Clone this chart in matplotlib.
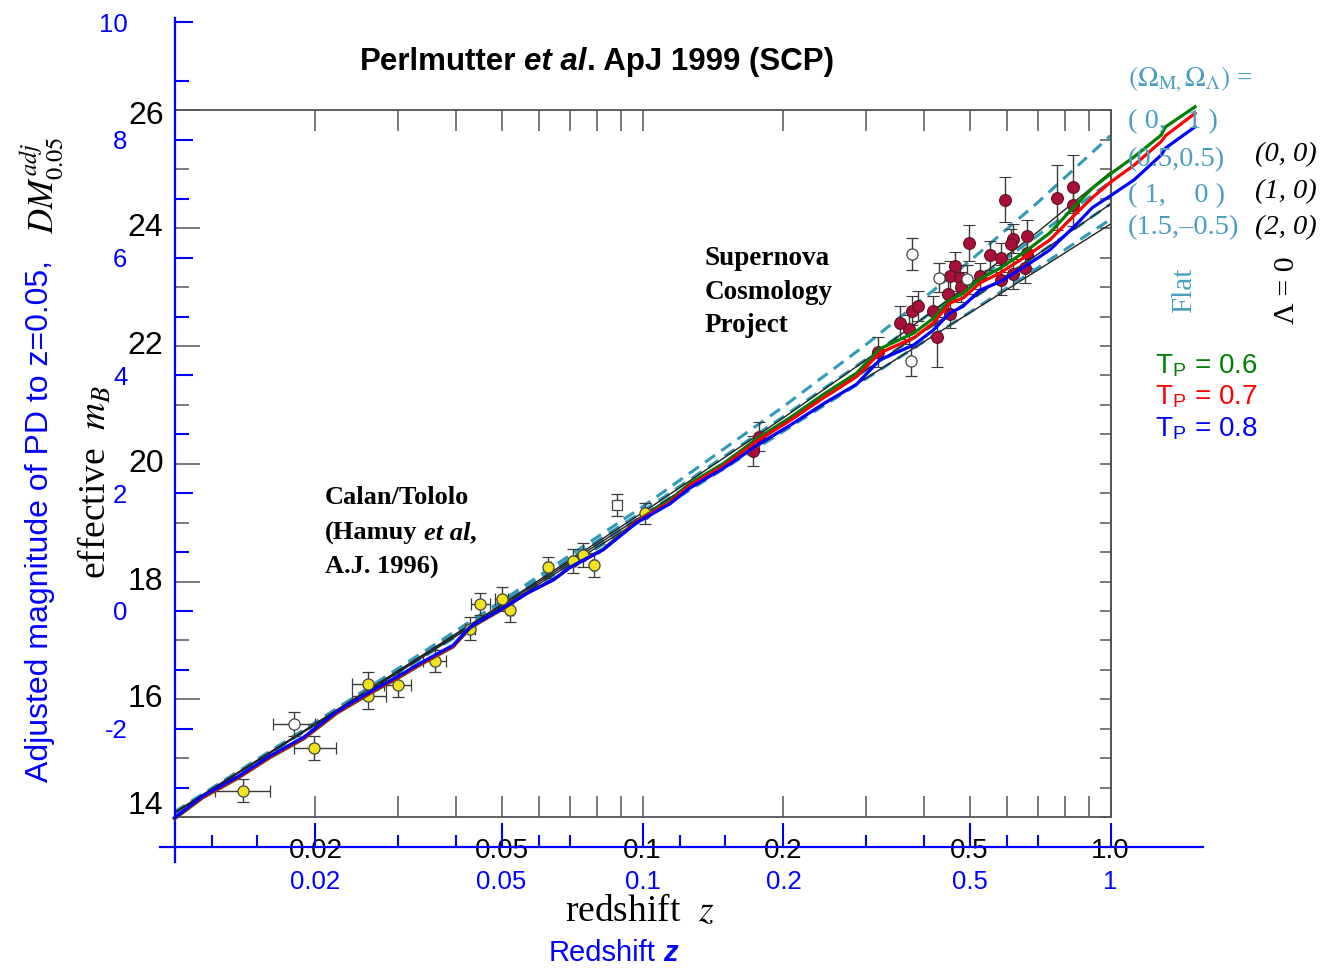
"""Perlmutter et al. 1999 Hubble diagram with the PD adjusted-magnitude overlay."""

import matplotlib

matplotlib.use("Agg")
import matplotlib.pyplot as plt
import numpy as np
from matplotlib.ticker import FixedFormatter, FixedLocator, NullFormatter
from matplotlib.transforms import offset_copy

plt.rcParams["mathtext.fontset"] = "stix"

W, H = 1323, 969
SANS = "Liberation Sans"
SERIF = "Liberation Serif"
BLUE = "#0000ff"
TEAL_LINE = "#2f9bb8"
TEAL_TEXT = "#4a9fbf"
INK = "#3a3a3a"

# pixel calibration of the two overlaid frames
X_Z001 = 174.5      # px of z = 0.01
PX_DECADE = 468.0   # px per decade of z
Y_V0 = 611.0        # px of adjusted magnitude 0
PX_MAG = 58.9       # px per magnitude
MAG_SHIFT = 17.5    # effective m_B = adjusted magnitude + 17.5

# ---- data -------------------------------------------------------------
# cosmological model curves (effective m_B)
z_model = [0.01, 0.02, 0.05, 0.1, 0.2, 0.3, 0.5, 0.7, 1.0]
m_00 = [14.08, 15.59, 17.61, 19.17, 20.78, 21.76, 23.05, 23.94, 24.95]
m_10 = [14.07, 15.58, 17.59, 19.12, 20.67, 21.59, 22.77, 23.56, 24.41]
m_20 = [14.07, 15.57, 17.56, 19.07, 20.57, 21.45, 22.56, 23.29, 24.07]
m_01 = [14.09, 15.61, 17.67, 19.27, 20.97, 22.02, 23.44, 24.44, 25.57]
m_55 = [14.08, 15.60, 17.63, 19.19, 20.80, 21.77, 23.03, 23.88, 24.79]
m_15 = [14.06, 15.57, 17.55, 19.05, 20.55, 21.44, 22.57, 23.33, 24.15]

# Calan/Tololo supernovae
z_ct = [0.0140, 0.0199, 0.0259, 0.0259, 0.0300, 0.0360, 0.0428, 0.0450,
        0.0500, 0.0521, 0.0629, 0.0710, 0.0747, 0.0788, 0.1012]
m_ct = [14.45, 15.17, 16.26, 16.06, 16.24, 16.65, 17.20, 17.62,
        17.70, 17.51, 18.24, 18.35, 18.45, 18.28, 19.16]
zlo_ct = [0.0018, 0.0019, 0.0020, 0.0020, 0.0020, 0.0020, 0.0010, 0.0020,
          0.0015, 0.0008, 0.0008, 0.0008, 0.0008, 0.0008, 0.0010]
zhi_ct = [0.0020, 0.0022, 0.0024, 0.0024, 0.0020, 0.0021, 0.0010, 0.0022,
          0.0015, 0.0008, 0.0008, 0.0008, 0.0008, 0.0008, 0.0010]
merr_ct = [0.20, 0.20, 0.20, 0.22, 0.20, 0.18, 0.20, 0.18,
           0.20, 0.20, 0.18, 0.20, 0.20, 0.20, 0.18]

# excluded low-z points (open circle, open square)
z_ct_open = [0.0180]
m_ct_open = [15.58]
z_ct_square = [0.0881]
m_ct_square = [19.30]

# Supernova Cosmology Project supernovae
z_scp = [0.595, 0.767, 0.830, 0.830, 0.499, 0.620, 0.662, 0.6125, 0.662, 0.553,
         0.583, 0.465, 0.454, 0.477, 0.526, 0.583, 0.618, 0.657, 0.480, 0.450,
         0.355, 0.376, 0.388, 0.371, 0.417, 0.426, 0.454, 0.319, 0.177, 0.1725]
m_scp = [24.48, 24.52, 24.70, 24.39, 23.75, 23.82, 23.86, 23.73, 23.58, 23.54,
         23.50, 23.35, 23.19, 23.16, 23.19, 23.12, 23.22, 23.32, 23.00, 22.88,
         22.39, 22.60, 22.68, 22.28, 22.60, 22.15, 22.55, 21.90, 20.46, 20.22]
mlo_scp = [0.38, 0.55, 0.45, 0.35, 0.30, 0.25, 0.28, 0.25, 0.25, 0.25,
           0.25, 0.25, 0.25, 0.22, 0.22, 0.25, 0.25, 0.25, 0.25, 0.25,
           0.28, 0.25, 0.25, 0.25, 0.25, 0.50, 0.25, 0.25, 0.25, 0.25]
mhi_scp = [0.38, 0.55, 0.55, 0.35, 0.30, 0.25, 0.28, 0.25, 0.25, 0.25,
           0.25, 0.25, 0.25, 0.22, 0.22, 0.25, 0.25, 0.25, 0.25, 0.25,
           0.28, 0.25, 0.25, 0.25, 0.25, 0.35, 0.25, 0.25, 0.25, 0.25]
z_scp_open = [0.376, 0.431, 0.494, 0.3747]
m_scp_open = [23.56, 23.16, 23.13, 21.74]
merr_scp_open = [0.27, 0.25, 0.25, 0.25]

# PD adjusted magnitude curves for three T_P values
z_tp = [0.010, 0.0115, 0.0136, 0.0160, 0.0189, 0.0222, 0.0262, 0.0308, 0.0334,
        0.0394, 0.0428, 0.0504, 0.0566, 0.0645, 0.0700, 0.0824, 0.0972, 0.1145,
        0.1263, 0.1487, 0.1615, 0.1750, 0.2064, 0.2437, 0.2868, 0.3211, 0.3803,
        0.4183, 0.4540, 0.4837, 0.5263, 0.5810, 0.6622, 0.7420, 0.8418, 0.9151,
        1.000, 1.123, 1.283, 1.311, 1.516]
dm_tp06 = [-3.53, -3.17, -2.85, -2.49, -2.17, -1.74, -1.40, -1.09, -0.92,
           -0.61, -0.29, 0.04, 0.30, 0.53, 0.74, 1.05, 1.53, 1.88,
           2.17, 2.50, 2.71, 2.92, 3.28, 3.68, 4.04, 4.45, 4.72,
           4.97, 5.28, 5.39, 5.64, 5.82, 6.12, 6.42, 6.89, 7.18,
           7.42, 7.71, 8.08, 8.22, 8.56]
dm_tp07 = [-3.52, -3.16, -2.84, -2.48, -2.16, -1.73, -1.39, -1.08, -0.91,
           -0.60, -0.28, 0.04, 0.30, 0.53, 0.74, 1.04, 1.52, 1.85,
           2.14, 2.46, 2.67, 2.88, 3.23, 3.62, 3.98, 4.38, 4.64,
           4.89, 5.23, 5.31, 5.57, 5.74, 6.03, 6.30, 6.74, 7.02,
           7.28, 7.57, 7.97, 8.07, 8.45]
dm_tp08 = [-3.51, -3.14, -2.82, -2.46, -2.14, -1.71, -1.37, -1.06, -0.89,
           -0.58, -0.27, 0.05, 0.30, 0.53, 0.74, 1.04, 1.50, 1.82,
           2.09, 2.42, 2.61, 2.81, 3.15, 3.52, 3.85, 4.26, 4.52,
           4.77, 5.06, 5.17, 5.45, 5.59, 5.87, 6.13, 6.55, 6.85,
           7.05, 7.32, 7.74, 7.86, 8.22]

# tick values and labels
mb_major = [14, 16, 18, 20, 22, 24, 26]
z_major_black = [0.02, 0.05, 0.1, 0.2, 0.5, 1.0]
z_labels_black = ["0.02", "0.05", "0.1", "0.2", "0.5", "1.0"]
z_minor_black = [0.03, 0.04, 0.06, 0.07, 0.08, 0.09, 0.3, 0.4, 0.6, 0.7, 0.8, 0.9]
z_major_blue = [0.02, 0.05, 0.1, 0.2, 0.5, 1.0]
z_labels_blue = ["0.02", "0.05", "0.1", "0.2", "0.5", "1"]
z_minor_blue = [0.012, 0.015, 0.03, 0.04, 0.06, 0.07, 0.12, 0.15, 0.3, 0.4, 0.6, 0.7]
dm_major = [-2, 0, 2, 4, 6, 8, 10]
dm_labels = ["-2", "0", "2", "4", "6", "8", "10"]
dm_minor = [-3, -1, 1, 3, 5, 7, 9]


def z_at(px: float) -> float:
    return 10 ** ((px - X_Z001) / PX_DECADE - 2)


def dm_at(py: float) -> float:
    return (Y_V0 - py) / PX_MAG


def py_of_dm(dm: float) -> float:
    return Y_V0 - dm * PX_MAG


def rect(left: float, top: float, right: float, bottom: float) -> list[float]:
    """Axes rectangle in figure fractions from pixel edges."""
    return [left / W, 1 - bottom / H, (right - left) / W, (bottom - top) / H]


def ftext(x_px: float, y_px: float, s: str, **kw):
    return fig.text(x_px / W, 1 - y_px / H, s, **kw)


def draw_pieces(x_px, y_px, pieces, ha="center", **common):
    """Write text pieces side by side (for mixed upright/italic runs)."""
    renderer = fig.canvas.get_renderer()
    texts, gaps = [], []
    for s, gap, kw in pieces:
        texts.append(fig.text(0, 0, s, va="center", ha="left", **common, **kw))
        gaps.append(gap)
    widths = [t.get_window_extent(renderer).width for t in texts]
    total = sum(widths) + sum(gaps)
    x = x_px - total / 2 if ha == "center" else x_px
    for t, w, g in zip(texts, widths, gaps):
        x += g
        t.set_position((x / W, 1 - y_px / H))
        x += w


fig = plt.figure(figsize=(W / 100, H / 100), dpi=100)

# ---- scanned Perlmutter frame ----------------------------------------
ax_m = fig.add_axes(rect(X_Z001, py_of_dm(26 - MAG_SHIFT),
                         X_Z001 + 2 * PX_DECADE, py_of_dm(14 - MAG_SHIFT)))
ax_m.set_xscale("log")
ax_m.set_xlim(0.01, 1.0)
ax_m.set_ylim(14, 26)

for m in (m_01, m_55, m_10, m_15):
    ax_m.plot(z_model, m, color=TEAL_LINE, lw=2.2, ls=(0, (4, 2.5)), zorder=2)
for m in (m_00, m_10, m_20):
    ax_m.plot(z_model, m, color="#222222", lw=1.0, zorder=2)

err_kw = dict(ecolor=INK, elinewidth=1.0, capsize=4, capthick=1.0, zorder=3)
ax_m.errorbar(z_ct, m_ct, xerr=[zlo_ct, zhi_ct], yerr=merr_ct, fmt="o", ms=8,
              mfc="#f2e41c", mec="#444444", mew=0.9, **err_kw)
ax_m.errorbar(z_ct_open, m_ct_open, xerr=[[0.0018], [0.0020]], yerr=[0.20], fmt="o",
              ms=8, mfc="white", mec="#444444", mew=0.9, **err_kw)
ax_m.errorbar(z_ct_square, m_ct_square, yerr=[0.18], fmt="s", ms=7,
              mfc="white", mec="#444444", mew=0.9, **err_kw)
ax_m.errorbar(z_scp, m_scp, yerr=[mlo_scp, mhi_scp], fmt="o", ms=8.5,
              mfc="#a8103a", mec="#5a1020", mew=0.8, **err_kw)
ax_m.errorbar(z_scp_open, m_scp_open, yerr=merr_scp_open, fmt="o", ms=8,
              mfc="white", mec="#444444", mew=0.9, **err_kw)

for side in ax_m.spines.values():
    side.set_color("#555555")
    side.set_linewidth(1.3)
ax_m.xaxis.set_major_locator(FixedLocator(z_major_black))
ax_m.xaxis.set_major_formatter(FixedFormatter(z_labels_black))
ax_m.xaxis.set_minor_locator(FixedLocator(z_minor_black))
ax_m.xaxis.set_minor_formatter(NullFormatter())
ax_m.tick_params(axis="x", which="both", direction="in", length=15, width=1.1,
                 color="#555555", top=True, labelsize=20, pad=15,
                 labelfontfamily=SANS)
ax_m.set_yticks(mb_major)
ax_m.set_yticks(range(15, 26, 2), minor=True)
ax_m.tick_params(axis="y", which="major", direction="in", length=18, width=1.1,
                 color="#555555", labelleft=False)
ax_m.tick_params(axis="y", which="minor", direction="in", length=10, width=1.1,
                 color="#555555")
sec = ax_m.secondary_yaxis("right")
sec.set_yticks(np.arange(14, 26.01, 0.5))
sec.tick_params(direction="in", length=8, width=1.1, color="#555555", labelright=False)
sec.spines["right"].set_color("#555555")
sec.spines["right"].set_linewidth(1.3)

# y tick labels of the scanned frame (end labels sit inside the frame)
label_tr = ax_m.get_yaxis_transform()
for m in mb_major:
    dy = {26: -6, 14: 11}.get(m, 0)
    ax_m.text(0, m, str(m), ha="right", va="center", fontsize=23, family=SANS,
              transform=offset_copy(label_tr, fig, x=-11, y=dy, units="dots"))

# ---- PD overlay frame -------------------------------------------------
ax_b = fig.add_axes(rect(160, 18, 1203, 862))
ax_b.set_facecolor("none")
ax_b.set_xscale("log")
ax_b.set_xlim(z_at(160), z_at(1203))
ax_b.set_ylim(dm_at(862), dm_at(18))

ax_b.plot(z_tp, dm_tp06, color="#008000", lw=2.3, zorder=5)
ax_b.plot(z_tp, dm_tp07, color="#ff0000", lw=2.3, zorder=5)
ax_b.plot(z_tp, dm_tp08, color=BLUE, lw=2.3, zorder=6)

ax_b.spines["top"].set_visible(False)
ax_b.spines["right"].set_visible(False)
ax_b.spines["left"].set_position(("data", 0.01))
ax_b.spines["bottom"].set_position(("data", -4.0))
for name in ("left", "bottom"):
    ax_b.spines[name].set_color(BLUE)
    ax_b.spines[name].set_linewidth(1.6)
ax_b.xaxis.set_major_locator(FixedLocator(z_major_blue))
ax_b.xaxis.set_major_formatter(FixedFormatter(z_labels_blue))
ax_b.xaxis.set_minor_locator(FixedLocator(z_minor_blue))
ax_b.xaxis.set_minor_formatter(NullFormatter())
ax_b.yaxis.set_major_locator(FixedLocator(dm_major))
ax_b.yaxis.set_major_formatter(FixedFormatter(dm_labels))
ax_b.yaxis.set_minor_locator(FixedLocator(dm_minor))
ax_b.tick_params(axis="both", which="both", direction="in", color=BLUE, width=1.5,
                 labelcolor=BLUE, labelsize=18.5, labelfontfamily=SANS)
ax_b.tick_params(axis="x", which="major", length=17, pad=17)
ax_b.tick_params(axis="x", which="minor", length=9)
ax_b.tick_params(axis="y", which="major", length=13, pad=34)
ax_b.tick_params(axis="y", which="minor", length=10)

# ---- text ---------------------------------------------------------------
draw_pieces(597, 62, [("Perlmutter", 0, dict(weight="bold")),
                      ("et al", 8, dict(weight="bold", style="italic")),
                      (". ApJ 1999 (SCP)", 0, dict(weight="bold"))],
            family=SANS, fontsize=22.5)

ftext(705, 292, "Supernova\nCosmology\nProject", ha="left", va="center",
      family=SERIF, weight="bold", fontsize=19.5, linespacing=1.45)
ftext(325, 497, "Calan/Tololo", ha="left", va="center", family=SERIF,
      weight="bold", fontsize=19)
draw_pieces(325, 533, [("(Hamuy", 0, dict(weight="bold")),
                       ("et al", 6, dict(weight="bold", style="italic")),
                       (",", 0, dict(weight="bold"))],
            ha="left", family=SERIF, fontsize=19)
ftext(325, 567, "A.J. 1996)", ha="left", va="center", family=SERIF,
      weight="bold", fontsize=19)

ftext(640, 912, r"redshift  $z$", ha="center", va="center", family=SERIF, fontsize=27)
ftext(95, 482, r"effective  $m_B$", ha="center", va="center", family=SERIF,
      fontsize=27, rotation=90)
draw_pieces(613, 953, [("Redshift", 0, dict()),
                       ("z", 8, dict(weight="bold", style="italic"))],
            family=SANS, fontsize=21, color=BLUE)
ftext(40, 521, "Adjusted magnitude of PD to z=0.05,", ha="center", va="center",
      family=SANS, fontsize=23, color=BLUE, rotation=90)
ftext(42, 185, r"$DM^{adj}_{0.05}$", ha="center", va="center", fontsize=25,
      rotation=90, color="black")

ftext(1128, 80, r"$(\Omega_{\rm M,}\Omega_\Lambda)$ =", ha="left", va="center",
      family=SERIF, fontsize=20, color=TEAL_TEXT)
for y_px, s in ((122, "( 0,   1 )"), (160, "(0.5,0.5)"), (196, "( 1,    0 )"),
                (228, "(1.5,\u20130.5)")):
    ftext(1128, y_px, s, ha="left", va="center", family=SERIF, fontsize=20.5,
          color=TEAL_TEXT)
for y_px, s in ((155, "(0, 0)"), (192, "(1, 0)"), (228, "(2, 0)")):
    ftext(1255, y_px, s, ha="left", va="center", family=SERIF, style="italic",
          fontsize=20.5, color="black")
ftext(1184, 290, "Flat", ha="center", va="center", family=SERIF, fontsize=21,
      color=TEAL_TEXT, rotation=90)
ftext(1287, 290, "\u039b = 0", ha="center", va="center", family=SERIF, fontsize=21.5,
      color="black", rotation=90)

for y_px, tp, col in ((366, "0.6", "#008000"), (397, "0.7", "#ff0000"),
                      (429, "0.8", BLUE)):
    ftext(1155, y_px, r"T$_\mathregular{P}$ = " + tp, ha="left", va="center",
          family=SANS, fontsize=20, color=col)

fig.savefig("out.png", dpi=100)
